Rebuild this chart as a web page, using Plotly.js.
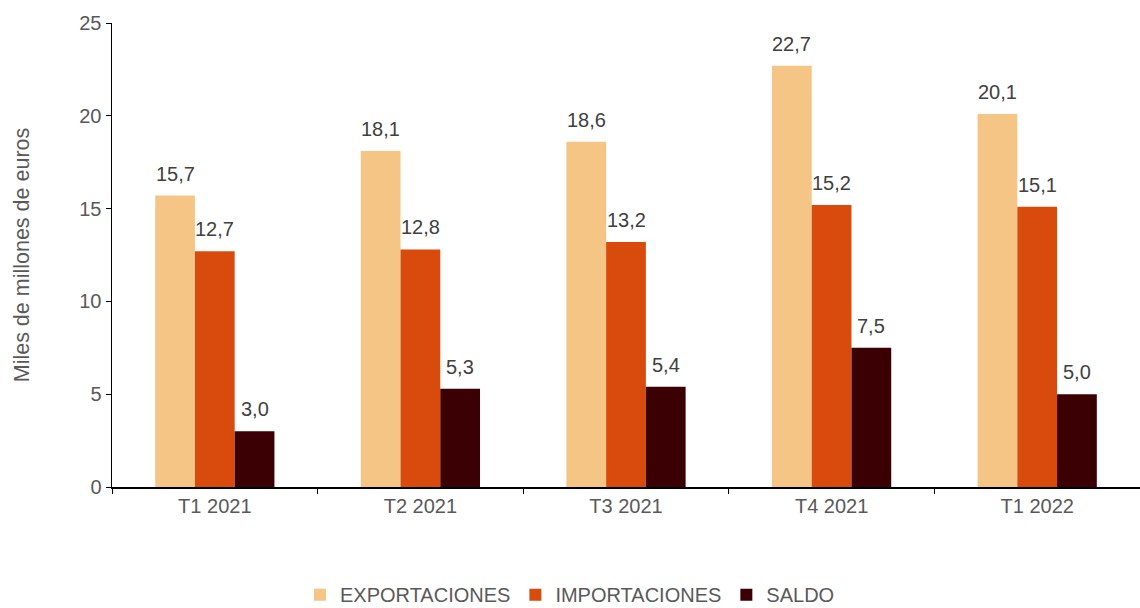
<!DOCTYPE html>
<html><head><meta charset="utf-8">
<script src="https://cdn.plot.ly/plotly-3.0.1.min.js"></script>
<style>html,body{margin:0;padding:0;background:#fff}#chart{width:1140px;height:608px}</style>
</head><body><div id="chart"></div>
<script>
var categories = ["T1 2021", "T2 2021", "T3 2021", "T4 2021", "T1 2022"];
var exportaciones = [15.7, 18.1, 18.6, 22.7, 20.1];
var importaciones = [12.7, 12.8, 13.2, 15.2, 15.1];
var saldo = [3.0, 5.3, 5.4, 7.5, 5.0];
var seriesNames = ["EXPORTACIONES", "IMPORTACIONES", "SALDO"];
var colors = ["#F4C584", "#D84B0C", "#3B0004"];
var allSeries = [exportaciones, importaciones, saldo];

var W = 1140, H = 608;
var margin = {l: 112, r: 0, t: 23, b: 121, autoexpand: false};
var bargap = 0.42;
var catW = (W - margin.l - margin.r) / categories.length;
var barW = catW * (1 - bargap) / allSeries.length;

var traces = allSeries.map(function(vals, i){
  return {
    type: 'bar', name: seriesNames[i], x: categories, y: vals,
    marker: {color: colors[i]},
    hoverinfo: 'skip'
  };
});

var annotations = [];
allSeries.forEach(function(vals, i){
  vals.forEach(function(v, j){
    annotations.push({
      x: categories[j], y: v, xref: 'x', yref: 'y',
      text: v.toFixed(1).replace('.', ','),
      showarrow: false, xanchor: 'center', yanchor: 'bottom',
      xshift: (i - 1) * barW, yshift: 9,
      font: {family: 'Liberation Sans, Arial, sans-serif', size: 20, color: '#404040'}
    });
  });
});

var layout = {
  width: W, height: H,
  margin: margin,
  barmode: 'group', bargap: bargap, bargroupgap: 0,
  separators: ',.',
  paper_bgcolor: '#fff', plot_bgcolor: '#fff',
  font: {family: 'Liberation Sans, Arial, sans-serif', size: 20, color: '#595959'},
  showlegend: true,
  legend: {orientation: 'h', x: 0.4455, xanchor: 'center', y: -0.19, yanchor: 'top',
    font: {size: 20, color: '#595959'}, traceorder: 'normal', itemwidth: 30},
  annotations: annotations,
  xaxis: {
    showline: true, linecolor: '#000', linewidth: 1.5,
    ticks: 'outside', tickson: 'boundaries', ticklen: 5, tickcolor: '#000',
    showgrid: false, zeroline: false, automargin: false,
    tickfont: {size: 20, color: '#595959'}
  },
  yaxis: {
    range: [0, 25], dtick: 5, showline: true, linecolor: '#000', linewidth: 1.5,
    ticks: 'outside', ticklen: 5, tickcolor: '#000', showgrid: false, zeroline: false,
    automargin: false,
    tickfont: {size: 20, color: '#595959'},
    title: {text: 'Miles de millones de euros', font: {size: 21.5, color: '#595959'}, standoff: 43}
  }
};
Plotly.newPlot('chart', traces, layout, {displayModeBar: false, staticPlot: true});
</script></body></html>
